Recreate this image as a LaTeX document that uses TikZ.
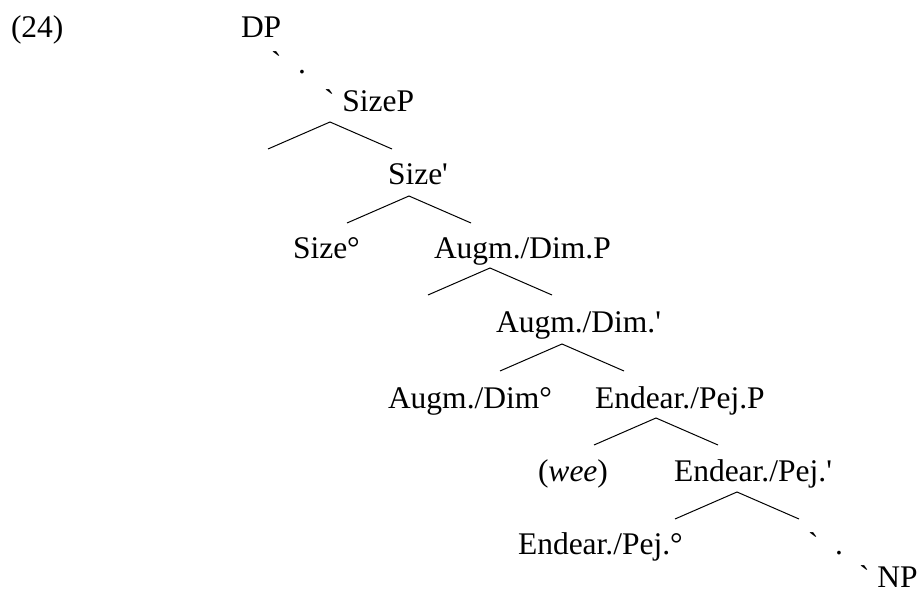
\documentclass[tikz,border=0pt]{standalone}
\usepackage{fontspec}
\setmainfont{Liberation Serif}
\begin{document}
\begin{tikzpicture}[x=1pt,y=-1pt,
  lbl/.style={anchor=base west,inner sep=0pt,outer sep=0pt,font=\fontsize{31.5}{36}\selectfont},
  branch/.style={line width=1pt}]
\useasboundingbox (0,0) rectangle (923,593);
% labels
\node[lbl] (ex) at (11,38) {(24)};
\node[lbl] (dp) at (241,38) {DP};
\node[lbl] (g1) at (271,74) {\textasciigrave};
\node[lbl] (p1) at (298,74) {.};
\node[lbl] (sizep) at (324,112) {\textasciigrave\ SizeP};
\node[lbl] (sizebar) at (388,185) {Size\textquotesingle};
\node[lbl] (sizehead) at (293,259) {Size°};
\node[lbl] (augp) at (434,259) {Augm./Dim.P};
\node[lbl] (augbar) at (496,333) {Augm./Dim.\textquotesingle};
\node[lbl] (aughead) at (388,408) {Augm./Dim°};
\node[lbl] (endp) at (595,408) {Endear./Pej.P};
\node[lbl] (wee) at (538,481) {(\textit{wee})};
\node[lbl] (endbar) at (674,481) {Endear./Pej.\textquotesingle};
\node[lbl] (endhead) at (518,554) {Endear./Pej.°};
\node[lbl] (g2) at (808,554) {\textasciigrave};
\node[lbl] (p2) at (835,554) {.};
\node[lbl] (np) at (859,587) {\textasciigrave\ NP};
% branches
\foreach \n/\x/\y in {a/330/122, b/409/196, c/490/268, d/562/344, e/656/418, f/737/492} {
  \coordinate (\n top) at (\x,\y);
  \coordinate (\n l) at (\x-62,\y+27);
  \coordinate (\n r) at (\x+62,\y+27);
  \draw[branch] (\n l) -- (\n top) -- (\n r);
}
\end{tikzpicture}
\end{document}
